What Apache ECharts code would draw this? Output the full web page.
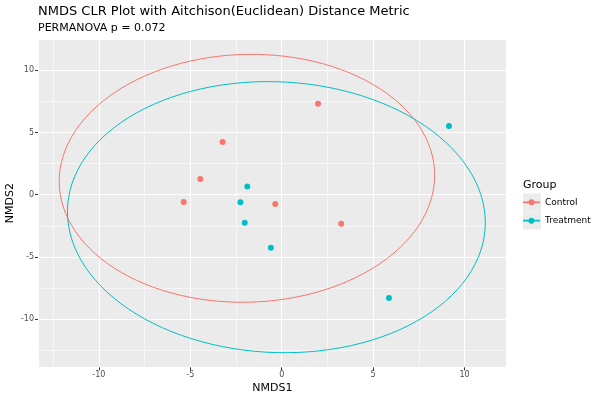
<!DOCTYPE html>
<html>
<head>
<meta charset="utf-8">
<script src="https://cdn.jsdelivr.net/npm/echarts@6/dist/echarts.min.js"></script>
<style>html,body{margin:0;padding:0;background:#fff}#c{width:600px;height:400px}</style>
</head>
<body>
<div id="c"></div>
<script>
// Data
const groups = ['Control', 'Treatment'];
const controlX = [1.99, -3.23, -4.45, -5.36, -0.35, 3.26];
const controlY = [7.30, 4.23, 1.26, -0.59, -0.75, -2.33];
const treatX = [9.15, -1.88, -2.26, -2.02, -0.59, 5.87];
const treatY = [5.51, 0.67, -0.61, -2.25, -4.25, -8.29];
// ellipse (stat_ellipse) parameters: [centerX, centerY, halfWidth, halfHeight, covTerm]
const controlEllipse = [-1.9, 1.32, 10.27, 9.95, 2.5];
const treatEllipse = [-0.29, -1.80, 11.43, 10.88, -5.0];
const xTicks = [-10, -5, 0, 5, 10];
const yTicks = [-10, -5, 0, 5, 10];
const colors = ['#F8766D', '#00BFC4'];

function zip(xs, ys) { return xs.map((x, i) => [x, ys[i]]); }
function ellipse(p) {
  const [cx, cy, a, b, c] = p;
  const k = c / a, m = Math.sqrt(b * b - k * k);
  const pts = [];
  const n = 120;
  for (let i = 0; i <= n; i++) {
    const t = 2 * Math.PI * i / n;
    pts.push([cx + a * Math.cos(t), cy + k * Math.cos(t) + m * Math.sin(t)]);
  }
  return pts;
}
const fmt = v => (xTicks.indexOf(Math.round(v * 1000) / 1000) >= 0 ? String(v) : '');
const fmtY = v => (yTicks.indexOf(Math.round(v * 1000) / 1000) >= 0 ? String(v) : '');

const chart = echarts.init(document.getElementById('c'), null, { renderer: 'canvas' });
const FONT = 'DejaVu Sans';
const iconPath = 'path://M0,7.6 L17,7.6 L17,9.4 L0,9.4 Z M8.5,5.5 A3,3 0 1,1 8.49,5.5 Z';
chart.setOption({
  animation: false,
  textStyle: { fontFamily: FONT },
  title: [
    { text: 'NMDS CLR Plot with Aitchison(Euclidean) Distance Metric', left: 33, top: 0,
      textStyle: { fontSize: 13, fontWeight: 'normal', color: '#000', fontFamily: FONT } },
    { text: 'PERMANOVA p = 0.072', left: 33, top: 18,
      textStyle: { fontSize: 11, fontWeight: 'normal', color: '#000', fontFamily: FONT } },
    { text: 'Group', left: 518, top: 175,
      textStyle: { fontSize: 11, fontWeight: 'normal', color: '#000', fontFamily: FONT } }
  ],
  graphic: [
    { type: 'rect', shape: { x: 523, y: 193.5, width: 18, height: 18 }, style: { fill: '#EBEBEB' }, z: 0 },
    { type: 'rect', shape: { x: 523, y: 211.5, width: 18, height: 18 }, style: { fill: '#EBEBEB' }, z: 0 }
  ],
  legend: {
    data: groups, orient: 'vertical', left: 523, top: 197.3, padding: 0,
    itemWidth: 17, itemHeight: 6, itemGap: 8.4, icon: iconPath,
    textStyle: { fontSize: 9, lineHeight: 10, color: '#000', fontFamily: FONT },
    selectedMode: false
  },
  grid: { left: 38, right: 93.3, top: 39, bottom: 32.7, show: true, backgroundColor: '#EBEBEB', borderWidth: 0, containLabel: false, outerBoundsMode: 'none' },
  xAxis: {
    type: 'value', min: -13.33, max: 12.31, splitNumber: 5,
    name: 'NMDS1', nameLocation: 'middle', nameGap: 15, nameMoveOverlap: false,
    nameTextStyle: { fontSize: 11, color: '#000', fontFamily: FONT },
    axisLine: { show: false, onZero: false },
    axisTick: { show: true, length: 3, lineStyle: { color: '#333', width: 1 } },
    axisLabel: { fontSize: 8, color: '#4D4D4D', margin: 4, formatter: fmt, showMinLabel: false, showMaxLabel: false },
    splitLine: { show: true, lineStyle: { color: '#fff', width: 1.1 } },
    minorTick: { show: false, splitNumber: 2 },
    minorSplitLine: { show: true, lineStyle: { color: '#fff', width: 0.55 } }
  },
  yAxis: {
    type: 'value', min: -13.85, max: 12.5, splitNumber: 5,
    name: 'NMDS2', nameLocation: 'middle', nameGap: 22, nameMoveOverlap: false,
    nameTextStyle: { fontSize: 11, color: '#000', fontFamily: FONT },
    axisLine: { show: false, onZero: false },
    axisTick: { show: true, length: 3, lineStyle: { color: '#333', width: 1 } },
    axisLabel: { fontSize: 8, color: '#4D4D4D', margin: 4, formatter: fmtY, showMinLabel: false, showMaxLabel: false },
    splitLine: { show: true, lineStyle: { color: '#fff', width: 1.1 } },
    minorTick: { show: false, splitNumber: 2 },
    minorSplitLine: { show: true, lineStyle: { color: '#fff', width: 0.55 } }
  },
  series: [
    { name: groups[0], type: 'scatter', data: zip(controlX, controlY), symbolSize: 6,
      itemStyle: { color: colors[0], opacity: 1 }, z: 3 },
    { name: groups[1], type: 'scatter', data: zip(treatX, treatY), symbolSize: 6,
      itemStyle: { color: colors[1], opacity: 1 }, z: 3 },
    { name: groups[0], type: 'line', data: ellipse(controlEllipse), showSymbol: false, symbol: 'none',
      lineStyle: { color: colors[0], width: 1 }, itemStyle: { color: colors[0] }, z: 2, silent: true },
    { name: groups[1], type: 'line', data: ellipse(treatEllipse), showSymbol: false, symbol: 'none',
      lineStyle: { color: colors[1], width: 1 }, itemStyle: { color: colors[1] }, z: 2, silent: true }
  ]
});
</script>
</body>
</html>
